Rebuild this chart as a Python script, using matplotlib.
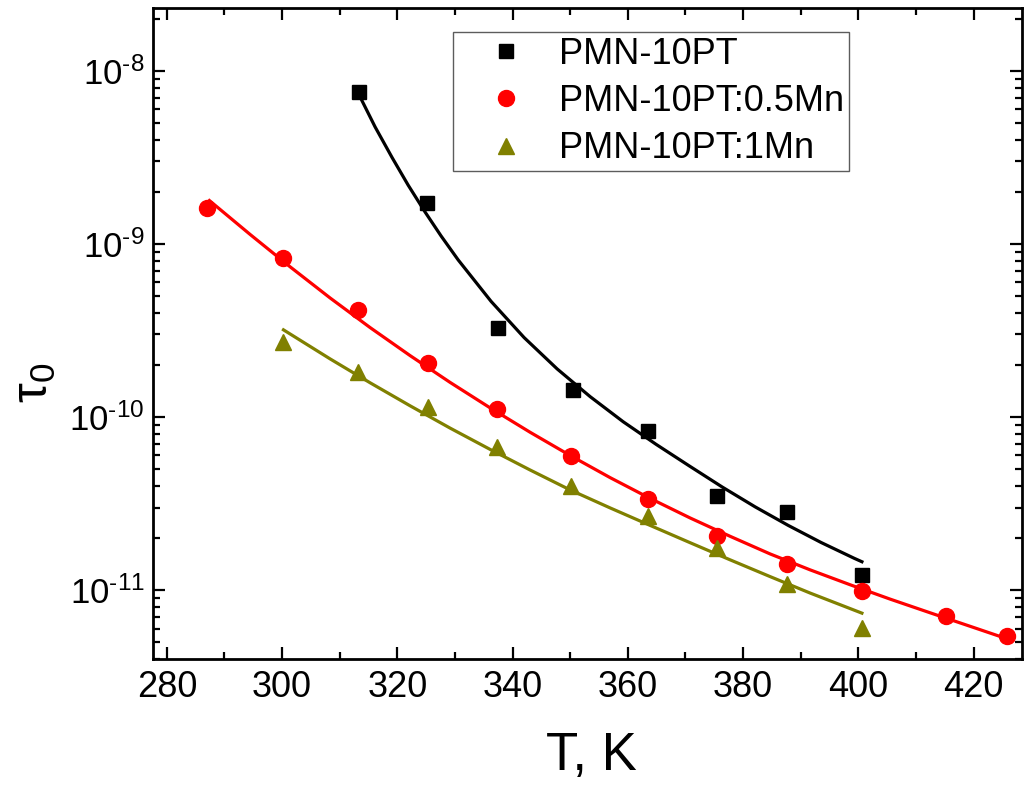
import numpy as np
import matplotlib
matplotlib.use("Agg")
import matplotlib.pyplot as plt
from matplotlib.ticker import MultipleLocator, LogLocator, FixedLocator, NullFormatter

plt.rcParams['font.family'] = ['Liberation Sans', 'DejaVu Sans']
plt.rcParams['mathtext.fontset'] = 'custom'
plt.rcParams['mathtext.rm'] = 'Liberation Sans'
plt.rcParams['mathtext.it'] = 'Liberation Sans:italic'
plt.rcParams['mathtext.default'] = 'regular'

# measured points (T in K, tau0 in s)
t_10pt = [313.3, 325.2, 337.4, 350.4, 363.5, 375.5, 387.6, 400.6]
tau_10pt = [7.59e-9, 1.73e-9, 3.29e-10, 1.44e-10, 8.32e-11, 3.51e-11, 2.81e-11, 1.23e-11]

t_05mn = [287.0, 300.1, 313.1, 325.3, 337.3, 350.2, 363.5, 375.5, 387.6, 400.6, 415.2, 425.8]
tau_05mn = [1.61e-9, 8.28e-10, 4.16e-10, 2.05e-10, 1.11e-10, 5.98e-11, 3.37e-11,
            2.06e-11, 1.41e-11, 9.9e-12, 7.05e-12, 5.45e-12]

t_1mn = [300.1, 313.1, 325.3, 337.3, 350.2, 363.5, 375.5, 387.6, 400.6]
tau_1mn = [2.70e-10, 1.81e-10, 1.15e-10, 6.72e-11, 3.99e-11, 2.68e-11, 1.74e-11, 1.08e-11, 6.03e-12]

# fit curves (T, log10 tau0)
fit_t_10pt = [313.37, 316.15, 319.10, 321.88, 324.83, 327.60, 330.56, 336.28, 342.01, 347.74,
              353.46, 359.19, 364.92, 370.65, 376.37, 382.10, 387.83, 393.55, 399.28, 400.62]
fit_lg_10pt = [-8.139, -8.324, -8.501, -8.660, -8.816, -8.954, -9.092, -9.332, -9.541, -9.722,
               -9.882, -10.027, -10.158, -10.282, -10.404, -10.519, -10.626, -10.725, -10.816, -10.836]

fit_t_05mn = [287.39, 294.46, 301.40, 308.34, 315.28, 322.22, 329.17, 336.11, 343.05, 349.99,
              356.93, 363.87, 370.81, 377.75, 384.70, 391.64, 398.58, 405.52, 412.46, 419.40, 425.78]
fit_lg_05mn = [-8.749, -8.945, -9.132, -9.312, -9.483, -9.645, -9.800, -9.947, -10.088, -10.222,
               -10.350, -10.470, -10.583, -10.689, -10.791, -10.883, -10.969, -11.052, -11.131,
               -11.209, -11.281]

fit_t_1mn = [300.24, 308.34, 315.28, 322.22, 329.17, 336.11, 343.05, 349.99, 356.93, 363.87,
             370.81, 377.75, 384.70, 391.64, 400.62]
fit_lg_1mn = [-9.496, -9.664, -9.802, -9.935, -10.064, -10.187, -10.306, -10.421, -10.525,
              -10.626, -10.726, -10.825, -10.922, -11.017, -11.133]

labels = ['PMN-10PT', 'PMN-10PT:0.5Mn', 'PMN-10PT:1Mn']
olive = '#808000'

fig = plt.figure(figsize=(10.27, 7.85), dpi=100)
ax = fig.add_axes([153/1027, 1-659/785, 869/1027, 651/785])

lw = 2.3
ax.plot(fit_t_10pt, 10**np.array(fit_lg_10pt), color='black', lw=lw, zorder=2)
ax.plot(fit_t_05mn, 10**np.array(fit_lg_05mn), color='red', lw=lw, zorder=2)
ax.plot(fit_t_1mn, 10**np.array(fit_lg_1mn), color=olive, lw=lw, zorder=2)

ax.plot(t_10pt, tau_10pt, 's', color='black', ms=10, ls='none', label=labels[0], zorder=3)
ax.plot(t_05mn, tau_05mn, 'o', color='red', ms=11.5, ls='none', label=labels[1], zorder=3)
ax.plot(t_1mn, tau_1mn, '^', color=olive, ms=12, ls='none', label=labels[2], zorder=3)

ax.set_yscale('log')
ax.set_xlim(277.6, 428.4)
ax.set_ylim(4.0e-12, 2.31e-8)

ax.xaxis.set_major_locator(MultipleLocator(20))
ax.xaxis.set_minor_locator(MultipleLocator(10))
ax.yaxis.set_major_locator(FixedLocator([1e-11, 1e-10, 1e-9, 1e-8]))
ax.yaxis.set_minor_locator(LogLocator(base=10, subs=np.arange(2, 10), numticks=20))
ax.yaxis.set_minor_formatter(NullFormatter())
ax.set_yticklabels(['10$^{\\text{-11}}$', '10$^{\\text{-10}}$', '10$^{\\text{-9}}$', '10$^{\\text{-8}}$'])

ax.tick_params(which='both', direction='in', top=True, right=True, width=1.6)
ax.tick_params(which='major', length=8.5)
ax.tick_params(which='minor', length=4.8)
ax.tick_params(axis='x', pad=8, labelsize=26)
ax.tick_params(axis='y', pad=6, labelsize=25)
for s in ax.spines.values():
    s.set_linewidth(2.0)

leg = ax.legend(loc='upper right', bbox_to_anchor=(0.801, 0.963), borderaxespad=0,
                fontsize=26, numpoints=1, frameon=True, fancybox=False,
                labelspacing=0.34, handletextpad=0.15, borderpad=0.13, handlelength=2.65)
leg.get_frame().set_edgecolor('#333333')
leg.get_frame().set_linewidth(1.0)

fig.text(591/1027, 1-756/785, 'T, K', fontsize=38, ha='center', va='center')
fig.text(35/1027, 1-383/785, 'τ$_0$', fontsize=36, ha='center', va='center', rotation=90)

fig.savefig('out.png', dpi=100)
